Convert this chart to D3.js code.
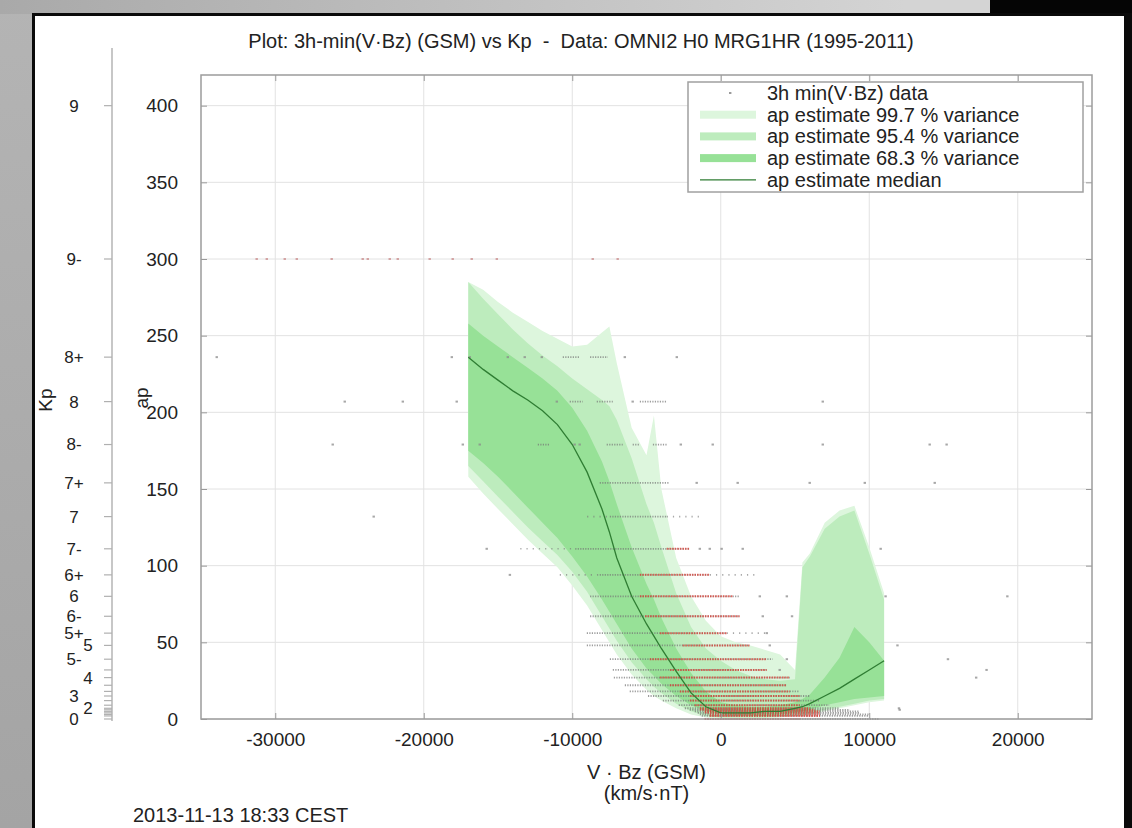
<!DOCTYPE html>
<html lang="en">
<head>
<meta charset="UTF-8">
<title>3h-min(V·Bz) vs Kp</title>
<script src="https://d3js.org/d3.v7.min.js"></script>
<style>
  body { margin: 0; overflow: hidden; background: #b0b0b0; }
  svg { display: block; }
  text { font-family: "Liberation Sans", Arial, Helvetica, sans-serif; fill: #222; white-space: pre; }
</style>
</head>
<body>
<svg width="1132" height="828"></svg>
<script>
// V·Bz bins (km/s·nT) of the ap estimate and its variance bands
const vbz    = [-17000,-16000,-15000,-14000,-13000,-12000,-11000,-10000,-9000,-8000,-7500,-7000,-6000,-5000,-4500,-4000,-3000,-2000,-1000,0,1000,2000,3000,4000,5000,5500,6000,7000,8000,9000,10000,11000];
const hi997  = [285,280,272,265,259,253,248,243,244,252,256,232,190,172,198,150,105,80,64,54,50,48,45,42,32,102,108,128,136,139,112,82];
const lo997  = [158,147,137,127,117,108,99,87,74,58,50,42,29,19,15,12,7,3,1,0,0,0,0,1,2,2,3,5,7,9,11,12];
const hi954  = [285,274,264,254,245,237,230,222,215,208,204,195,170,140,128,112,82,60,46,38,32,28,26,25,26,99,106,124,132,136,108,78];
const lo954  = [165,155,145,135,125,116,107,96,83,67,59,51,37,26,21,17,10,5,2,1,1,1,1,2,3,3,4,6,8,10,12,13];
const hi683  = [258,250,243,236,229,222,214,203,188,168,155,140,112,88,78,66,46,30,18,11,9,8,8,9,11,13,16,27,40,60,50,38];
const lo683  = [175,167,158,148,138,128,118,106,93,78,70,62,46,33,28,23,15,9,5,3,2,2,2,3,4,5,6,9,11,13,14,15];
const median = [236,228,221,214,208,201,192,179,161,137,122,105,80,62,54,46,31,17,8,4,4,4,5,5,7,8,10,15,20,26,32,38];

const apTicks  = [0, 50, 100, 150, 200, 250, 300, 350, 400];
const vbzTicks = [-30000, -20000, -10000, 0, 10000, 20000];

// Kp steps and their ap equivalents
const kpAp     = [0, 2, 3, 4, 5, 6, 7, 9, 12, 15, 18, 22, 27, 32, 39, 48, 56, 67, 80, 94, 111, 132, 154, 179, 207, 236, 300, 400];
const kpLabels = ["0", "", "", "", "", "", "2", "", "", "3", "", "", "4", "", "5-", "5", "5+", "6-", "6", "6+", "7-", "7", "7+", "8-", "8", "8+", "9-", "9"];
const kpShifted = ["2", "4", "5"];

// 3h min(V·Bz) samples, grouped by ap level: dense runs, sparse runs, red (crowded) runs, lone points
const rows = [
  { ap: 300, pts: [-31250,-30570,-29360,-28550,-26200,-24110,-23770,-22290,-21750,-19600,-18050,-16770,-15080,-8620,-6940] },
  { ap: 236, pts: [-33940,-18110,-16900,-14340,-13200,-12050,-6460,-2960], dense: [[-10640,-9500],[-8800,-7600]] },
  { ap: 207, pts: [-25320,-21410,-17780,-11040,-5930,6870], dense: [[-10170,-9290],[-8350,-7270],[-5450,-3640]] },
  { ap: 179, pts: [-26130,-17370,-16230,-9840,-9500,-2690,-540,6870,14070,15210], dense: [[-12320,-11520],[-7680,-6600],[-5930,-5450],[-4570,-3640]] },
  { ap: 154, pts: [-1620,1140,5990,9700,14410], dense: [[-8150,-6870],[-6800,-3440]] },
  { ap: 132, pts: [-23370], dense: [[-7470,-3640]], sparse: [[-9000,-7470],[-3640,-1410]] },
  { ap: 111, pts: [-15760,-1410,-740,60,1480,10770], sparse: [[-13500,-9800]], dense: [[-9800,-2100]], red: [[-3640,-2090]] },
  { ap: 94,  pts: [-14200], sparse: [[-10840,-8150],[-740,2420]], dense: [[-8150,-740]], red: [[-5450,-740]] },
  { ap: 80,  pts: [2630,4450,11100,19300], dense: [[-8800,1280]], red: [[-5450,810]] },
  { ap: 67,  pts: [2830,4800], dense: [[-8800,1280]], red: [[-5100,1280]] },
  { ap: 56,  pts: [3100], dense: [[-9020,400]], sparse: [[400,3100]], red: [[-4100,400]] },
  { ap: 48,  pts: [3300,11900], dense: [[-9020,1950]], red: [[-2560,1950]] },
  { ap: 39,  pts: [4450,15300], dense: [[-7470,3500]], red: [[-4780,3100]] },
  { ap: 32,  pts: [3970,17900], dense: [[-7270,3100]], red: [[-3430,3100]] },
  { ap: 27,  pts: [17200], dense: [[-7200,4650]], red: [[-4100,4650]] },
  { ap: 22,  dense: [[-6460,4450]], red: [[-3430,4450]] },
  { ap: 18,  dense: [[-6130,5300]], red: [[-2760,4650]] },
  { ap: 15,  dense: [[-4900,6000]], red: [[-2090,5320]] },
  { ap: 12,  dense: [[-3900,6670]], red: [[-2090,5320]] },
  { ap: 9,   dense: [[-2830,7300]], red: [[-1750,5320]] },
  { ap: 7,   pts: [12000], dense: [[-2420,8000]], red: [[-1410,5990]] },
  { ap: 6,   pts: [12050], dense: [[-2090,8690]], red: [[-1410,6330]] },
  { ap: 5,   dense: [[-1750,9360]], red: [[-1080,6670]] },
  { ap: 4,   dense: [[-1550,9360]], red: [[-1080,6670]] },
  { ap: 3,   dense: [[-1410,10000]], red: [[-740,6670]] },
  { ap: 2,   dense: [[-1280,10000]], red: [[-740,6670]] },
  { ap: 0,   dense: [[-1080,10700]], red: [[-1080,5320]] }
];

const legendItems = [
  { label: "3h min(V·Bz) data", kind: "dot" },
  { label: "ap estimate 99.7 % variance", kind: "band", color: "#ddf6dd" },
  { label: "ap estimate 95.4 % variance", kind: "band", color: "#bdecbd" },
  { label: "ap estimate 68.3 % variance", kind: "band", color: "#97e197" },
  { label: "ap estimate median", kind: "line", color: "#2f7d33" }
];

const W = 1132, H = 828;
const svg = d3.select("svg");

// backdrop: photographed slide edges
const defs = svg.append("defs");
const g1 = defs.append("linearGradient").attr("id", "topfade").attr("x1", 0).attr("x2", 1);
g1.append("stop").attr("offset", "0%").attr("stop-color", "#a9a9a9");
g1.append("stop").attr("offset", "80%").attr("stop-color", "#d4d4d4");
const g2 = defs.append("linearGradient").attr("id", "sidefade").attr("x1", 0).attr("x2", 0).attr("y1", 0).attr("y2", 1);
g2.append("stop").attr("offset", "0%").attr("stop-color", "#b4b4b4");
g2.append("stop").attr("offset", "100%").attr("stop-color", "#a4a4a4");

svg.append("rect").attr("width", W).attr("height", H).attr("fill", "url(#sidefade)");
svg.append("rect").attr("width", W).attr("height", 14).attr("fill", "url(#topfade)");
svg.append("rect").attr("x", 990).attr("width", W - 990).attr("height", 16).attr("fill", "#050505");
svg.append("rect").attr("x", 1124).attr("width", 8).attr("height", H).attr("fill", "#050505");
svg.append("rect").attr("x", 32).attr("y", 13).attr("width", W - 32).attr("height", H).attr("fill", "#0a0a0a");
svg.append("rect").attr("x", 35).attr("y", 16).attr("width", 1089).attr("height", H).attr("fill", "#ffffff");

// plot area
const pLeft = 201, pRight = 1092, pTop = 75, pBottom = 719;
const x = d3.scaleLinear().domain([-35000, 25000]).range([pLeft, pRight]);
const y = d3.scaleLinear().domain([0, 420]).range([pBottom, pTop]);

const plot = svg.append("g");

// grid
plot.append("g").selectAll("line").data(vbzTicks).join("line")
  .attr("x1", d => x(d)).attr("x2", d => x(d)).attr("y1", pTop).attr("y2", pBottom)
  .attr("stroke", "#e2e2e2").attr("stroke-width", 1);
plot.append("g").selectAll("line").data(apTicks).join("line")
  .attr("x1", pLeft).attr("x2", pRight).attr("y1", d => y(d)).attr("y2", d => y(d))
  .attr("stroke", "#e2e2e2").attr("stroke-width", 1);

// variance bands
const bands = [
  { lo: lo997, hi: hi997, color: legendItems[1].color },
  { lo: lo954, hi: hi954, color: legendItems[2].color },
  { lo: lo683, hi: hi683, color: legendItems[3].color }
];
const area = d3.area().x(d => x(d.v)).y0(d => y(d.lo)).y1(d => y(d.hi));
bands.forEach(b => {
  plot.append("path")
    .datum(vbz.map((v, i) => ({ v, lo: b.lo[i], hi: b.hi[i] })))
    .attr("d", area).attr("fill", b.color);
});

// data points
const dots = plot.append("g");
rows.forEach(r => {
  (r.sparse || []).forEach(s => dots.append("line")
    .attr("x1", x(s[0])).attr("x2", x(s[1])).attr("y1", y(r.ap)).attr("y2", y(r.ap))
    .attr("stroke", "#7a7a7a").attr("stroke-width", 1.6).attr("stroke-dasharray", "1.2 5").attr("opacity", 0.65));
  (r.dense || []).forEach(s => dots.append("line")
    .attr("x1", x(s[0])).attr("x2", x(s[1])).attr("y1", y(r.ap)).attr("y2", y(r.ap))
    .attr("stroke", "#767676").attr("stroke-width", 1.8).attr("stroke-dasharray", "1.2 1.3").attr("opacity", 0.7));
  (r.red || []).forEach(s => dots.append("line")
    .attr("x1", x(s[0])).attr("x2", x(s[1])).attr("y1", y(r.ap)).attr("y2", y(r.ap))
    .attr("stroke", "#e0392f").attr("stroke-width", 2).attr("stroke-dasharray", "1.6 1").attr("opacity", 0.7));
  (r.pts || []).forEach(v => dots.append("rect")
    .attr("x", x(v) - 1.2).attr("y", y(r.ap) - 1).attr("width", 2.4).attr("height", 2)
    .attr("fill", r.ap === 300 ? "#c98a8a" : "#8a8a8a").attr("opacity", 0.75));
});

// median
plot.append("path")
  .datum(vbz.map((v, i) => ({ v, m: median[i] })))
  .attr("d", d3.line().x(d => x(d.v)).y(d => y(d.m)))
  .attr("fill", "none").attr("stroke", legendItems[4].color).attr("stroke-width", 1.3);

// frame and axes
const xAxis = plot.append("g").attr("transform", `translate(0,${pBottom})`)
  .call(d3.axisBottom(x).tickValues(vbzTicks).tickFormat(d => String(d)).tickSize(-6).tickPadding(14));
const yAxis = plot.append("g").attr("transform", `translate(${pLeft},0)`)
  .call(d3.axisLeft(y).tickValues(apTicks).tickSize(-6).tickPadding(23));
plot.append("g").attr("transform", `translate(0,${pTop})`)
  .call(d3.axisTop(x).tickValues(vbzTicks).tickFormat("").tickSize(-6));
plot.append("g").attr("transform", `translate(${pRight},0)`)
  .call(d3.axisRight(y).tickValues(apTicks).tickFormat("").tickSize(-6));
plot.selectAll(".domain").remove();
plot.selectAll(".tick line").attr("stroke", "#9a9a9a");
[xAxis, yAxis].forEach(a => a.selectAll("text")
  .attr("font-size", 19).attr("fill", "#222").attr("font-family", "Liberation Sans, Arial, sans-serif"));
plot.append("rect").attr("x", pLeft).attr("y", pTop).attr("width", pRight - pLeft).attr("height", pBottom - pTop)
  .attr("fill", "none").attr("stroke", "#9c9c9c").attr("stroke-width", 1.5);

// Kp axis
const kpX = 112;
const kp = svg.append("g");
kp.append("line").attr("x1", kpX).attr("x2", kpX).attr("y1", 48).attr("y2", y(0) + 2)
  .attr("stroke", "#b5b5b5").attr("stroke-width", 1.5);
kp.selectAll(".kt").data(kpAp).join("line")
  .attr("x1", kpX - 8).attr("x2", kpX).attr("y1", d => y(d)).attr("y2", d => y(d))
  .attr("stroke", "#b0b0b0").attr("stroke-width", 1.2);
kp.selectAll(".kl").data(kpAp.filter((d, i) => kpLabels[i] !== "")).join("text")
  .attr("x", d => kpShifted.includes(kpLabels[kpAp.indexOf(d)]) ? 88 : 74)
  .attr("y", d => y(d)).attr("dy", "0.35em")
  .attr("text-anchor", "middle").attr("font-size", 17)
  .text(d => kpLabels[kpAp.indexOf(d)]);

svg.append("text").attr("transform", "translate(52,400) rotate(-90)")
  .attr("text-anchor", "middle").attr("font-size", 19).text("Kp");
svg.append("text").attr("transform", "translate(148,398) rotate(-90)")
  .attr("text-anchor", "middle").attr("font-size", 19).text("ap");

// titles
svg.append("text").attr("x", 581).attr("y", 48).attr("text-anchor", "middle")
  .attr("font-size", 20).text("Plot: 3h-min(V·Bz) (GSM) vs Kp  -  Data: OMNI2 H0 MRG1HR (1995-2011)");
svg.append("text").attr("x", (pLeft + pRight) / 2).attr("y", 779).attr("text-anchor", "middle")
  .attr("font-size", 20).text("V · Bz (GSM)");
svg.append("text").attr("x", (pLeft + pRight) / 2).attr("y", 800).attr("text-anchor", "middle")
  .attr("font-size", 20).text("(km/s·nT)");
svg.append("text").attr("x", 133).attr("y", 822)
  .attr("font-size", 20).text("2013-11-13 18:33 CEST");

// legend
const lg = svg.append("g");
lg.append("rect").attr("x", 688).attr("y", 82).attr("width", 395).attr("height", 110)
  .attr("fill", "#ffffff").attr("stroke", "#a0a0a0").attr("stroke-width", 1.5);
legendItems.forEach((it, i) => {
  const cy = 93 + i * 21.7;
  if (it.kind === "dot") {
    lg.append("rect").attr("x", 729).attr("y", cy - 1).attr("width", 2.4).attr("height", 2).attr("fill", "#9a9a9a");
  } else if (it.kind === "band") {
    lg.append("rect").attr("x", 700).attr("y", cy - 4).attr("width", 56).attr("height", 8).attr("fill", it.color);
  } else {
    lg.append("line").attr("x1", 700).attr("x2", 756).attr("y1", cy).attr("y2", cy)
      .attr("stroke", it.color).attr("stroke-width", 1.2);
  }
  lg.append("text").attr("x", 767).attr("y", cy).attr("dy", "0.35em")
    .attr("font-size", 20).text(it.label);
});
</script>
</body>
</html>
